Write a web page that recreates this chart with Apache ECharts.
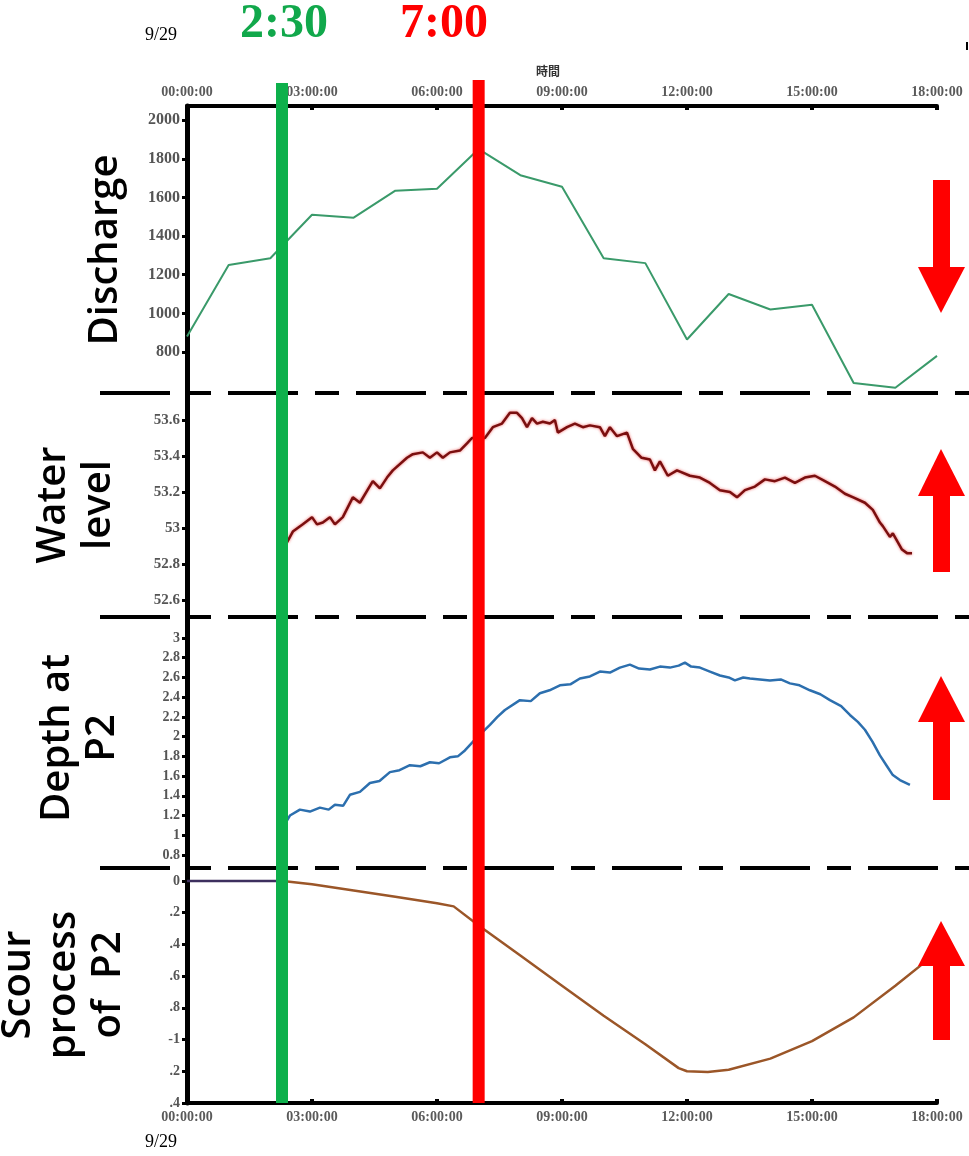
<!DOCTYPE html>
<html><head><meta charset="utf-8">
<script src="https://cdn.jsdelivr.net/npm/echarts@6/dist/echarts.min.js"></script>
<style>html,body{margin:0;padding:0;background:#fff}#c{width:969px;height:1156px}</style>
</head><body><div id="c"></div>
<script>
// ---------- data ----------
const hourTicks = [0, 3, 6, 9, 12, 15, 18];
const hourTickLabels = ['00:00:00','03:00:00','06:00:00','09:00:00','12:00:00','15:00:00','18:00:00'];

const dischargeHours = [0,1,2,3,4,5,6,7,8,9,10,11,12,13,14,15,16,17,18];
const dischargeValues = [880,1250,1285,1510,1495,1635,1645,1850,1715,1655,1285,1260,865,1100,1020,1045,640,615,780];
const dischargeTicks = [800,1000,1200,1400,1600,1800,2000];
const dischargeTickLabels = ['800','1000','1200','1400','1600','1800','2000'];

const levelHours = [2.40,2.54,2.78,3.00,3.12,3.26,3.43,3.55,3.74,3.98,
  4.15,4.46,4.63,4.80,4.94,5.28,5.42,5.66,5.83,6.00,
  6.14,6.31,6.55,6.72,6.84,7.15,7.34,7.56,7.75,7.92,
  8.04,8.16,8.28,8.40,8.54,8.71,8.83,8.90,9.12,9.31,
  9.50,9.67,9.91,10.03,10.15,10.32,10.56,10.70,10.91,11.11,
  11.23,11.35,11.54,11.76,12.07,12.31,12.55,12.79,13.03,13.20,
  13.39,13.63,13.87,14.11,14.35,14.59,14.83,15.07,15.31,15.55,
  15.79,15.99,16.27,16.46,16.63,16.70,16.87,16.94,17.16,17.28,17.40];
const levelValues = [52.92,52.98,53.02,53.06,53.02,53.03,53.06,53.02,53.06,53.17,
  53.14,53.26,53.22,53.28,53.32,53.39,53.41,53.42,53.39,53.42,
  53.39,53.42,53.43,53.47,53.50,53.50,53.56,53.58,53.64,53.64,
  53.61,53.56,53.61,53.58,53.59,53.58,53.60,53.53,53.56,53.58,
  53.56,53.57,53.56,53.51,53.56,53.51,53.53,53.44,53.39,53.38,
  53.32,53.37,53.29,53.32,53.29,53.28,53.25,53.21,53.20,53.17,
  53.21,53.23,53.27,53.26,53.28,53.25,53.28,53.29,53.26,53.23,
  53.19,53.17,53.14,53.10,53.03,53.01,52.95,52.97,52.88,52.86,52.86];
const levelTicks = [52.6,52.8,53,53.2,53.4,53.6];
const levelTickLabels = ['52.6','52.8','53','53.2','53.4','53.6'];

const depthHours = [2.33,2.47,2.71,2.95,3.19,3.40,3.55,3.75,3.91,4.15,4.39,4.62,4.87,5.10,5.35,5.60,5.83,6.05,6.31,6.50,6.67,6.91,7.03,7.27,7.45,7.63,7.99,8.25,8.47,8.70,8.95,9.20,9.43,9.67,9.91,10.15,10.39,10.63,10.85,11.11,11.35,11.59,11.80,11.95,12.10,12.31,12.55,12.79,13.00,13.15,13.35,13.51,13.75,13.99,14.25,14.47,14.70,14.95,15.20,15.43,15.70,15.91,16.10,16.27,16.45,16.63,16.80,16.94,17.11,17.35];
const depthValues = [1.10,1.20,1.26,1.24,1.28,1.26,1.31,1.30,1.41,1.44,1.53,1.55,1.64,1.66,1.71,1.70,1.74,1.73,1.79,1.80,1.86,1.97,2.02,2.12,2.20,2.27,2.37,2.36,2.44,2.47,2.52,2.53,2.59,2.61,2.66,2.65,2.70,2.73,2.69,2.68,2.71,2.70,2.72,2.75,2.71,2.70,2.66,2.62,2.60,2.57,2.60,2.59,2.58,2.57,2.58,2.54,2.52,2.47,2.43,2.37,2.31,2.22,2.15,2.07,1.95,1.81,1.70,1.61,1.56,1.51];
const depthTicks = [0.8,1,1.2,1.4,1.6,1.8,2,2.2,2.4,2.6,2.8,3];
const depthTickLabels = ['0.8','1','1.2','1.4','1.6','1.8','2','2.2','2.4','2.6','2.8','3'];

const scourBeforeHours = [0, 2.3];
const scourBeforeValues = [0, 0];
const scourHours = [2.3,3,4,5,6,6.4,7,8,9,10,11,11.8,12,12.5,13,14,15,16,17,18];
const scourValues = [0,-0.02,-0.06,-0.10,-0.14,-0.16,-0.28,-0.47,-0.66,-0.85,-1.03,-1.18,-1.20,-1.205,-1.19,-1.12,-1.01,-0.86,-0.66,-0.45];
const scourTicks = [0,-0.2,-0.4,-0.6,-0.8,-1,-1.2,-1.4];
const scourTickLabels = ['0','.2','.4','.6','.8','-1','.2','.4'];

const markerHours = [2.28, 7.0];
const markerLabels = ['2:30', '7:00'];
const panelNames = ['Discharge', 'Water\nlevel', 'Depth at\nP2', 'Scour\nprocess\nof  P2'];
const dateLabel = '9/29';
const timeAxisName = '時間';

// ---------- helpers ----------
const zip = (xs, ys) => xs.map((x, i) => [x, ys[i]]);
const lookup = (ticks, labels) => v => {
  let best = 0, d = Infinity;
  ticks.forEach((t, i) => { const dd = Math.abs(t - v); if (dd < d) { d = dd; best = i; } });
  return labels[best];
};
const SERIF = "'Liberation Serif', 'DejaVu Serif', serif";
const L = 187, R = 32;
const grids = [
  {left: L, right: R, top: 106, height: 287},
  {left: L, right: R, top: 393, height: 224},
  {left: L, right: R, top: 617, height: 251},
  {left: L, right: R, top: 868, height: 235}
];
const xLabelFmt = lookup(hourTicks, hourTickLabels);
function xAxis(i, show, pos) {
  return {
    type: 'value', gridIndex: i, min: 0, max: 18, interval: 3, position: pos, show: show,
    axisLine: {show: true, onZero: false, lineStyle: {color: '#000', width: 4}},
    axisTick: {show: true, inside: true, length: 4, lineStyle: {color: '#000', width: 4}},
    axisLabel: {show: true, margin: 7, color: '#5a5a5a', fontFamily: SERIF, fontWeight: 'bold', fontSize: 14, formatter: xLabelFmt},
    splitLine: {show: false}
  };
}
function yAxis(i, min, max, ticks, labels, fs) {
  return {
    type: 'value', gridIndex: i, min: min, max: max,
    axisLine: {show: true, onZero: false, lineStyle: {color: '#000', width: 5}},
    axisTick: {show: true, customValues: ticks, length: 5, lineStyle: {color: '#000', width: 3}},
    axisLabel: {show: true, customValues: ticks, margin: 7, color: '#555', fontFamily: SERIF, fontWeight: 'bold', fontSize: fs, formatter: lookup(ticks, labels)},
    splitLine: {show: false}
  };
}

const chart = echarts.init(document.getElementById('c'), null, {renderer: 'canvas'});

const sepDash = [70, 17, 24, 17];
const graphics = [];
[393, 617, 868].forEach((y, i) => graphics.push({
  type: 'line', id: 'sep' + i, z: 5,
  shape: {x1: 100, y1: y, x2: 969, y2: y},
  style: {stroke: '#000', lineWidth: 4, lineDash: sepDash}
}));
const nameCenters = [[106, 250], [76, 505], [80, 738], [64, 985]];
panelNames.forEach((t, i) => graphics.push({
  type: 'text', id: 'name' + i, x: nameCenters[i][0], y: nameCenters[i][1], rotation: Math.PI / 2,
  style: {text: t, fontSize: 40, fontWeight: 600, fontFamily: "'Open Sans', 'Noto Sans', sans-serif",
    fill: '#000', align: 'center', verticalAlign: 'middle', lineHeight: 45}
}));
// arrows (decorative)
function arrow(id, up, tipY, baseY, endY) {
  const cx = 941;
  graphics.push({type: 'rect', id: id + 's', z: 6,
    shape: {x: cx - 8, y: Math.min(baseY, endY), width: 17, height: Math.abs(endY - baseY)},
    style: {fill: '#ff0000'}});
  graphics.push({type: 'polygon', id: id + 'h', z: 6,
    shape: {points: [[cx, tipY], [cx - 23, baseY], [cx + 24, baseY]]},
    style: {fill: '#ff0000'}});
}
arrow('a1', false, 313, 267, 180);
arrow('a2', true, 449, 496, 572);
arrow('a3', true, 676, 722, 800);
arrow('a4', true, 921, 966, 1040);

graphics.push({type: 'text', id: 'd1', x: 145, y: 35, style: {text: dateLabel, fontSize: 18, fontFamily: SERIF, fill: '#000', verticalAlign: 'middle'}});
graphics.push({type: 'text', id: 'd2', x: 145, y: 1142, style: {text: dateLabel, fontSize: 18, fontFamily: SERIF, fill: '#000', verticalAlign: 'middle'}});
graphics.push({type: 'text', id: 'tn', x: 548, y: 71, style: {text: timeAxisName, fontSize: 12, fontWeight: 'bold', fontFamily: "'Noto Sans CJK TC', sans-serif", fill: '#333', align: 'center', verticalAlign: 'middle'}});
graphics.push({type: 'rect', id: 'tick', shape: {x: 966, y: 42, width: 2, height: 8}, style: {fill: '#000'}});
graphics.push({type: 'text', id: 'm0', x: 284, y: 25, style: {text: markerLabels[0], fontSize: 48, fontWeight: 'bold', fontFamily: SERIF, fill: '#11a84b', align: 'center', verticalAlign: 'middle'}});
graphics.push({type: 'text', id: 'm1', x: 444, y: 25, style: {text: markerLabels[1], fontSize: 48, fontWeight: 'bold', fontFamily: SERIF, fill: '#ff0000', align: 'center', verticalAlign: 'middle'}});

chart.setOption({
  animation: false,
  backgroundColor: '#fff',
  grid: grids,
  xAxis: [xAxis(0, true, 'top'), xAxis(1, false, 'bottom'), xAxis(2, false, 'bottom'), xAxis(3, true, 'bottom')],
  yAxis: [
    yAxis(0, 588, 2073, dischargeTicks, dischargeTickLabels, 16),
    yAxis(1, 52.505, 53.75, levelTicks, levelTickLabels, 15),
    yAxis(2, 0.668, 3.213, depthTicks, depthTickLabels, 14),
    yAxis(3, -1.4, 0.082, scourTicks, scourTickLabels, 14)
  ],
  series: [
    {type: 'line', xAxisIndex: 0, yAxisIndex: 0, data: zip(dischargeHours, dischargeValues), showSymbol: false,
      lineStyle: {color: '#3a9a6a', width: 2}},
    {type: 'line', xAxisIndex: 1, yAxisIndex: 1, data: zip(levelHours, levelValues), showSymbol: false,
      lineStyle: {color: '#7a0f0f', width: 2.5, shadowColor: 'rgba(230,0,0,0.6)', shadowBlur: 3}},
    {type: 'line', xAxisIndex: 2, yAxisIndex: 2, data: zip(depthHours, depthValues), showSymbol: false,
      lineStyle: {color: '#2c6fae', width: 2.5}},
    {type: 'line', xAxisIndex: 3, yAxisIndex: 3, data: zip(scourBeforeHours, scourBeforeValues), showSymbol: false,
      lineStyle: {color: '#3d2f5e', width: 2.5}},
    {type: 'line', xAxisIndex: 3, yAxisIndex: 3, data: zip(scourHours, scourValues), showSymbol: false,
      lineStyle: {color: '#9b5628', width: 2.5}}
  ],
  graphic: graphics
});

// vertical marker bars placed through the x scale
const gx = chart.convertToPixel({xAxisIndex: 0}, markerHours[0]);
const rx = chart.convertToPixel({xAxisIndex: 0}, markerHours[1]);
chart.setOption({graphic: [
  {type: 'rect', id: 'barG', z: 10, shape: {x: gx - 6, y: 83, width: 12, height: 1103 - 83}, style: {fill: '#0db04b'}},
  {type: 'rect', id: 'barR', z: 10, shape: {x: rx - 6, y: 80, width: 12, height: 1103 - 80}, style: {fill: '#ff0000'}}
]});
</script>
</body></html>
